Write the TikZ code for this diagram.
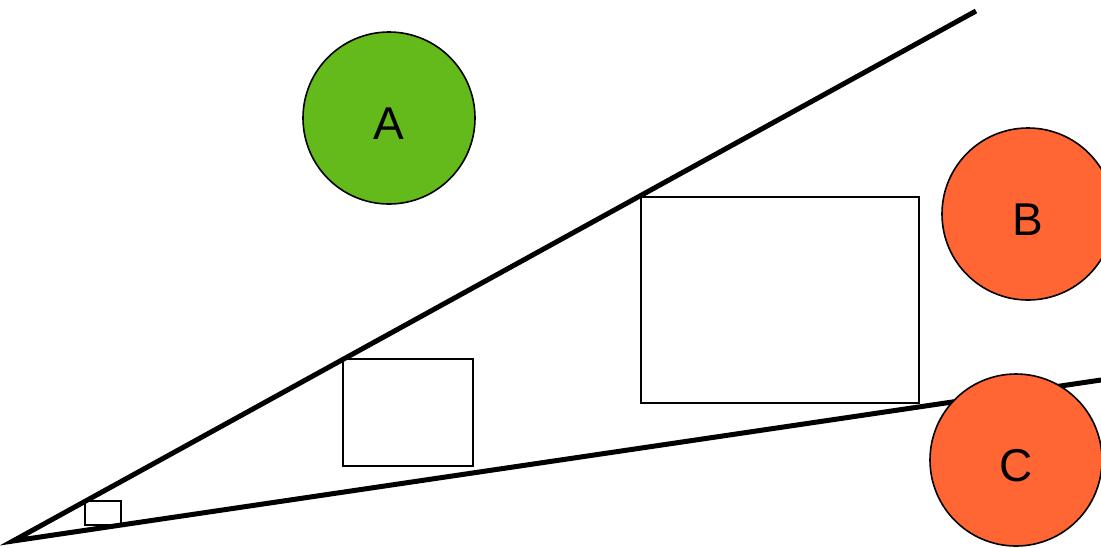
\documentclass[tikz,border=0pt]{standalone}
\usepackage{fontspec}
\setmainfont{Liberation Sans}
\usetikzlibrary{positioning}
\definecolor{greenx}{HTML}{63BA1A}
\definecolor{orangex}{HTML}{FF6633}
\tikzset{
  ball/.style={circle,draw=black,line width=1.6pt,inner sep=0pt,minimum size=172pt,
    label={[yshift=-6pt,font=\fontsize{46}{46}\selectfont]center:#1}},
  frame/.style={draw=black,line width=1.6pt,inner sep=0pt},
  ray/.style={line width=5pt,black}
}

\begin{document}
\begin{tikzpicture}[x=1pt,y=-1pt]
\useasboundingbox (0,0) rectangle (1101,547);
\coordinate (O) at (13,541);
\coordinate (U) at (976,11);
\coordinate (L) at (1101,380);
\draw[ray] (U)--(O)--(L);
% boxes in the wedge
\draw[frame] (85,501) rectangle (121,525);
\draw[frame] (343,359) rectangle (473,466);
\draw[frame] (641,197) rectangle (919,403);
% circles
\node[ball=A,fill=greenx] (a) at (389,118) {};
\node[ball=B,fill=orangex] (b) at (1028,214) {};
\node[ball=C,fill=orangex] (c) at (1016,460) {};
\end{tikzpicture}
\end{document}
